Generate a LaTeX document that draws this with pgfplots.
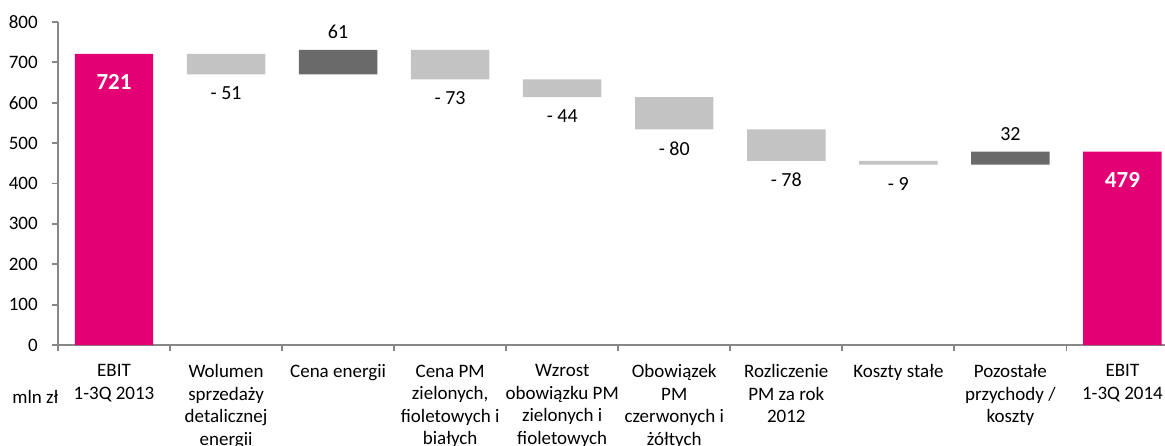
\documentclass[border=0pt]{standalone}
\usepackage{fontspec}
\setmainfont{Carlito}
\usepackage{pgfplots}
\usepackage{pgfplotstable}
\pgfplotsset{compat=1.18}

\definecolor{tpink}{HTML}{E20074}
\definecolor{lgray}{HTML}{C3C3C3}
\definecolor{dgray}{HTML}{6A6A6A}
\definecolor{axisgray}{HTML}{878787}

% waterfall: invisible base + visible segment
\pgfplotstableread{
x base total down up
0 0   721 0  0
1 670 0   51 0
2 670 0   0  61
3 658 0   73 0
4 614 0   44 0
5 534 0   80 0
6 456 0   78 0
7 447 0   9  0
8 447 0   0  32
9 0   479 0  0
}\wf

\pgfplotsset{frame/.style={
    at={(0pt,0pt)}, anchor=south west,
    width=553.5pt, height=161.5pt, scale only axis,
    xmin=-0.5, xmax=9.38, ymin=0, ymax=800}}

\begin{document}
\fontsize{9.5}{11.25}\selectfont
\begin{tikzpicture}
\useasboundingbox (-29pt,-50pt) rectangle (553.5pt,172.5pt);
\begin{axis}[
    frame,
    axis x line*=bottom, axis y line*=left,
    axis line style={draw=axisgray, line width=0.9pt},
    tick style={draw=axisgray, line width=0.9pt},
    tick align=outside, major tick length=2.8pt,
    ybar stacked, bar width=0.7,
    ytick={0,100,...,800},
    yticklabel style={xshift=-4pt},
    xtick={-0.5,0.5,...,8.5}, xticklabels={},
    extra x ticks={0,1,...,9},
    extra x tick labels={{EBIT\\1-3Q 2013},{Wolumen\\sprzedaży\\detalicznej\\energii},{Cena energii},{Cena PM\\zielonych,\\fioletowych i\\białych},{Wzrost\\obowiązku PM\\zielonych i\\fioletowych},{Obowiązek\\PM\\czerwonych i\\żółtych},{Rozliczenie\\PM za rok\\2012},{Koszty stałe},{Pozostałe\\przychody /\\koszty},{EBIT\\1-3Q 2014}},
    extra x tick style={major tick length=0pt, tick label style={align=center, anchor=north, yshift=-6.5pt}},
    tick label style={font=\fontsize{9.5}{11.25}\selectfont, text=black},
    /pgf/number format/assume math mode=true,
]
\addplot[fill=none, draw=none] table[x=x, y=base]{\wf};
\addplot[fill=tpink, draw=none] table[x=x, y=total]{\wf};
\addplot[fill=lgray, draw=none] table[x=x, y=down]{\wf};
\addplot[fill=dgray, draw=none] table[x=x, y=up]{\wf};
\end{axis}

% value labels, in an overlaid axis without stacking
\begin{axis}[frame, hide axis, clip=false]
\addplot[only marks, mark=none, point meta=explicit symbolic,
    nodes near coords, nodes near coords style={text=white, anchor=center, yshift=-14pt,
    font=\bfseries\fontsize{11.5}{13}\selectfont}]
    coordinates {(0,721) [721] (9,479) [479]};
\addplot[only marks, mark=none, point meta=explicit symbolic,
    nodes near coords, nodes near coords style={text=black, anchor=center, yshift=-9.5pt,
    font=\fontsize{10}{12}\selectfont}]
    coordinates {(1,670) [- 51] (3,658) [- 73] (4,614) [- 44] (5,534) [- 80] (6,456) [- 78] (7,447) [- 9]};
\addplot[only marks, mark=none, point meta=explicit symbolic,
    nodes near coords, nodes near coords style={text=black, anchor=center, yshift=9pt,
    font=\fontsize{10}{12}\selectfont}]
    coordinates {(2,731) [61] (8,479) [32]};
\end{axis}
\node[anchor=west, inner sep=0pt] at (-23pt,-26pt) {mln zł};
\end{tikzpicture}
\end{document}
